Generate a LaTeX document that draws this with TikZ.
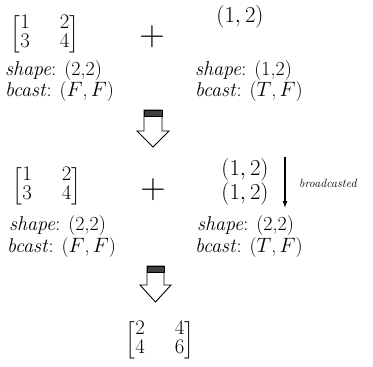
\documentclass[tikz,border=0pt]{standalone}
\usepackage{amsmath}
\usetikzlibrary{arrows.meta}
\begin{document}
\begin{tikzpicture}[x=1pt,y=-1pt,
  txt/.style={inner sep=0pt,font=\fontsize{20}{23}\selectfont},
  vec/.style={inner sep=0pt,font=\fontsize{20}{23}\selectfont,scale=1.1},
  plus/.style={inner sep=0pt,font=\fontsize{20}{23}\selectfont,scale=1.7},
  lbl/.style={txt,anchor=west},
  hollow/.style={draw=black,fill=white,line width=0.9pt,line join=miter},
  capbar/.style={fill=black!75,draw=black,line width=0.6pt},
  bcarrow/.style={-{Latex[length=7pt,width=5pt]},line width=1.1pt},
  small/.style={inner sep=0pt,anchor=west,font=\fontsize{12}{14}\selectfont\itshape}]
\useasboundingbox (0,0) rectangle (373,367);
% row 1
\node[txt] (m1) at (45,34) {$\renewcommand{\arraystretch}{0.85}\begin{bmatrix}1&\quad2\\3&\quad4\end{bmatrix}$};
\node[plus] (p1) at (152,37) {$+$};
\node[vec] (v1) at (240,17) {$(1,2)$};
\node[lbl] (s1) at (5,71) {\textit{shape}: (2,2)};
\node[lbl] (b1) at (5,92) {\textit{bcast}: ($F$,\,$F$)};
\node[lbl] (s2) at (195,71) {\textit{shape}: (1,2)};
\node[lbl] (b2) at (195,92) {\textit{bcast}: ($T$,\,$F$)};
% arrow 1
\draw[hollow] (144,110) -- (162,110) -- (162,131) -- (169,131) -- (153,147) -- (137,131) -- (144,131) -- cycle;
\fill[capbar] (144,110) rectangle (162,116);
% row 2
\node[txt] (m2) at (47,186) {$\renewcommand{\arraystretch}{0.85}\begin{bmatrix}1&\quad2\\3&\quad4\end{bmatrix}$};
\node[plus] (p2) at (153,190) {$+$};
\node[vec] (v2a) at (245,170) {$(1,2)$};
\node[vec] (v2b) at (245,194) {$(1,2)$};
\coordinate (bt) at (285,157);
\coordinate (bb) at (285,208);
\draw[bcarrow] (bt) -- (bb);
\node[small] (bl) at (299,183) {broadcasted};
\node[lbl] (s3) at (9,226) {\textit{shape}: (2,2)};
\node[lbl] (b3) at (7,248) {\textit{bcast}: ($F$,\,$F$)};
\node[lbl] (s4) at (197,226) {\textit{shape}: (2,2)};
\node[lbl] (b4) at (195,248) {\textit{bcast}: ($T$,\,$F$)};
% arrow 2
\draw[hollow] (147,266) -- (164,266) -- (164,285) -- (171,285) -- (155.5,302) -- (140,285) -- (147,285) -- cycle;
\fill[capbar] (147,266) rectangle (164,272);
% result
\node[txt] (m3) at (160,340) {$\renewcommand{\arraystretch}{0.85}\begin{bmatrix}2&\quad4\\4&\quad6\end{bmatrix}$};
\end{tikzpicture}
\end{document}
